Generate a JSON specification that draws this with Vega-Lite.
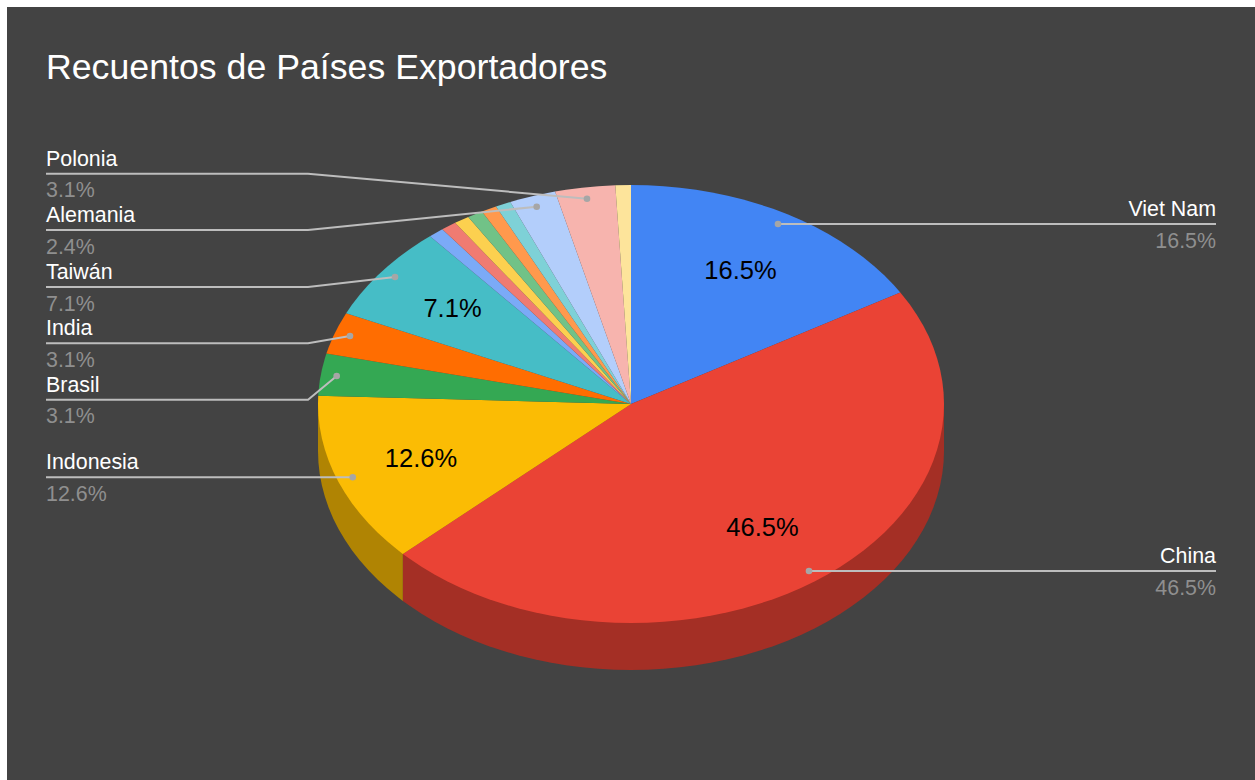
{
"$schema":"https://vega.github.io/schema/vega-lite/v6.json",
"width":1248,"height":773,
"autosize":{"type":"none"},
"padding":{"left":7,"top":7,"right":0,"bottom":0},
"background":"#ffffff",
"view":{"fill":"#434343","stroke":null},
"title":{"text":"Recuentos de Países Exportadores","anchor":"start","frame":"group","offset":0,"dx":39,"dy":108,"baseline":"alphabetic","font":"Liberation Sans","fontSize":35.7,"fontWeight":"normal","color":"#ffffff"},
"datasets":{
"wedges":[
{"slice":"China lado","order":89,"x":100,"y":0},{"slice":"China lado","order":90,"x":100,"y":-21.46},{"slice":"China lado","order":93,"x":99.86,"y":-26.69},{"slice":"China lado","order":96,"x":99.45,"y":-31.91},{"slice":"China lado","order":99,"x":98.77,"y":-37.1},{"slice":"China lado","order":102,"x":97.81,"y":-42.25},{"slice":"China lado","order":105,"x":96.59,"y":-47.34},{"slice":"China lado","order":108,"x":95.11,"y":-52.36},{"slice":"China lado","order":111,"x":93.36,"y":-57.3},{"slice":"China lado","order":114,"x":91.35,"y":-62.13},{"slice":"China lado","order":117,"x":89.1,"y":-66.86},{"slice":"China lado","order":120,"x":86.6,"y":-71.46},{"slice":"China lado","order":123,"x":83.87,"y":-75.92},{"slice":"China lado","order":126,"x":80.9,"y":-80.24},{"slice":"China lado","order":129,"x":77.71,"y":-84.39},{"slice":"China lado","order":132,"x":74.31,"y":-88.37},{"slice":"China lado","order":135,"x":70.71,"y":-92.17},{"slice":"China lado","order":138,"x":66.91,"y":-95.77},{"slice":"China lado","order":141,"x":62.93,"y":-99.17},{"slice":"China lado","order":144,"x":58.78,"y":-102.36},{"slice":"China lado","order":147,"x":54.46,"y":-105.33},{"slice":"China lado","order":150,"x":50,"y":-108.06},{"slice":"China lado","order":153,"x":45.4,"y":-110.56},{"slice":"China lado","order":156,"x":40.67,"y":-112.81},{"slice":"China lado","order":159,"x":35.84,"y":-114.82},{"slice":"China lado","order":162,"x":30.9,"y":-116.57},{"slice":"China lado","order":165,"x":25.88,"y":-118.05},{"slice":"China lado","order":168,"x":20.79,"y":-119.27},{"slice":"China lado","order":171,"x":15.64,"y":-120.23},{"slice":"China lado","order":174,"x":10.45,"y":-120.91},{"slice":"China lado","order":177,"x":5.23,"y":-121.32},{"slice":"China lado","order":180,"x":0,"y":-121.46},{"slice":"China lado","order":183,"x":-5.23,"y":-121.32},{"slice":"China lado","order":186,"x":-10.45,"y":-120.91},{"slice":"China lado","order":189,"x":-15.64,"y":-120.23},{"slice":"China lado","order":192,"x":-20.79,"y":-119.27},{"slice":"China lado","order":195,"x":-25.88,"y":-118.05},{"slice":"China lado","order":198,"x":-30.9,"y":-116.57},{"slice":"China lado","order":201,"x":-35.84,"y":-114.82},{"slice":"China lado","order":204,"x":-40.67,"y":-112.81},{"slice":"China lado","order":207,"x":-45.4,"y":-110.56},{"slice":"China lado","order":210,"x":-50,"y":-108.06},{"slice":"China lado","order":213,"x":-54.46,"y":-105.33},{"slice":"China lado","order":216,"x":-58.78,"y":-102.36},{"slice":"China lado","order":219,"x":-62.93,"y":-99.17},{"slice":"China lado","order":222,"x":-66.91,"y":-95.77},{"slice":"China lado","order":225,"x":-70.71,"y":-92.17},{"slice":"China lado","order":226.8,"x":-72.9,"y":-89.91},{"slice":"China lado","order":227,"x":-72.9,"y":-68.45},
{"slice":"Indonesia lado","order":226,"x":-72.9,"y":-68.45},{"slice":"Indonesia lado","order":226.8,"x":-72.9,"y":-89.91},{"slice":"Indonesia lado","order":228,"x":-74.31,"y":-88.37},{"slice":"Indonesia lado","order":231,"x":-77.71,"y":-84.39},{"slice":"Indonesia lado","order":234,"x":-80.9,"y":-80.24},{"slice":"Indonesia lado","order":237,"x":-83.87,"y":-75.92},{"slice":"Indonesia lado","order":240,"x":-86.6,"y":-71.46},{"slice":"Indonesia lado","order":243,"x":-89.1,"y":-66.86},{"slice":"Indonesia lado","order":246,"x":-91.35,"y":-62.13},{"slice":"Indonesia lado","order":249,"x":-93.36,"y":-57.3},{"slice":"Indonesia lado","order":252,"x":-95.11,"y":-52.36},{"slice":"Indonesia lado","order":255,"x":-96.59,"y":-47.34},{"slice":"Indonesia lado","order":258,"x":-97.81,"y":-42.25},{"slice":"Indonesia lado","order":261,"x":-98.77,"y":-37.1},{"slice":"Indonesia lado","order":264,"x":-99.45,"y":-31.91},{"slice":"Indonesia lado","order":267,"x":-99.86,"y":-26.69},{"slice":"Indonesia lado","order":270,"x":-100,"y":-21.46},{"slice":"Indonesia lado","order":271,"x":-100,"y":0},{"slice":"Indonesia lado","order":272,"x":0,"y":0},
{"slice":"Viet Nam","order":-1,"x":0,"y":0},{"slice":"Viet Nam","order":0,"x":0,"y":100},{"slice":"Viet Nam","order":3,"x":5.23,"y":99.86},{"slice":"Viet Nam","order":6,"x":10.45,"y":99.45},{"slice":"Viet Nam","order":9,"x":15.64,"y":98.77},{"slice":"Viet Nam","order":12,"x":20.79,"y":97.81},{"slice":"Viet Nam","order":15,"x":25.88,"y":96.59},{"slice":"Viet Nam","order":18,"x":30.9,"y":95.11},{"slice":"Viet Nam","order":21,"x":35.84,"y":93.36},{"slice":"Viet Nam","order":24,"x":40.67,"y":91.35},{"slice":"Viet Nam","order":27,"x":45.4,"y":89.1},{"slice":"Viet Nam","order":30,"x":50,"y":86.6},{"slice":"Viet Nam","order":33,"x":54.46,"y":83.87},{"slice":"Viet Nam","order":36,"x":58.78,"y":80.9},{"slice":"Viet Nam","order":39,"x":62.93,"y":77.71},{"slice":"Viet Nam","order":42,"x":66.91,"y":74.31},{"slice":"Viet Nam","order":45,"x":70.71,"y":70.71},{"slice":"Viet Nam","order":48,"x":74.31,"y":66.91},{"slice":"Viet Nam","order":51,"x":77.71,"y":62.93},{"slice":"Viet Nam","order":54,"x":80.9,"y":58.78},{"slice":"Viet Nam","order":57,"x":83.87,"y":54.46},{"slice":"Viet Nam","order":59.4,"x":86.05,"y":50.9},
{"slice":"China","order":-1,"x":0,"y":0},{"slice":"China","order":59.4,"x":86.05,"y":50.9},{"slice":"China","order":63,"x":89.1,"y":45.4},{"slice":"China","order":66,"x":91.35,"y":40.67},{"slice":"China","order":69,"x":93.36,"y":35.84},{"slice":"China","order":72,"x":95.11,"y":30.9},{"slice":"China","order":75,"x":96.59,"y":25.88},{"slice":"China","order":78,"x":97.81,"y":20.79},{"slice":"China","order":81,"x":98.77,"y":15.64},{"slice":"China","order":84,"x":99.45,"y":10.45},{"slice":"China","order":87,"x":99.86,"y":5.23},{"slice":"China","order":90,"x":100,"y":0},{"slice":"China","order":93,"x":99.86,"y":-5.23},{"slice":"China","order":96,"x":99.45,"y":-10.45},{"slice":"China","order":99,"x":98.77,"y":-15.64},{"slice":"China","order":102,"x":97.81,"y":-20.79},{"slice":"China","order":105,"x":96.59,"y":-25.88},{"slice":"China","order":108,"x":95.11,"y":-30.9},{"slice":"China","order":111,"x":93.36,"y":-35.84},{"slice":"China","order":114,"x":91.35,"y":-40.67},{"slice":"China","order":117,"x":89.1,"y":-45.4},{"slice":"China","order":120,"x":86.6,"y":-50},{"slice":"China","order":123,"x":83.87,"y":-54.46},{"slice":"China","order":126,"x":80.9,"y":-58.78},{"slice":"China","order":129,"x":77.71,"y":-62.93},{"slice":"China","order":132,"x":74.31,"y":-66.91},{"slice":"China","order":135,"x":70.71,"y":-70.71},{"slice":"China","order":138,"x":66.91,"y":-74.31},{"slice":"China","order":141,"x":62.93,"y":-77.71},{"slice":"China","order":144,"x":58.78,"y":-80.9},{"slice":"China","order":147,"x":54.46,"y":-83.87},{"slice":"China","order":150,"x":50,"y":-86.6},{"slice":"China","order":153,"x":45.4,"y":-89.1},{"slice":"China","order":156,"x":40.67,"y":-91.35},{"slice":"China","order":159,"x":35.84,"y":-93.36},{"slice":"China","order":162,"x":30.9,"y":-95.11},{"slice":"China","order":165,"x":25.88,"y":-96.59},{"slice":"China","order":168,"x":20.79,"y":-97.81},{"slice":"China","order":171,"x":15.64,"y":-98.77},{"slice":"China","order":174,"x":10.45,"y":-99.45},{"slice":"China","order":177,"x":5.23,"y":-99.86},{"slice":"China","order":180,"x":0,"y":-100},{"slice":"China","order":183,"x":-5.23,"y":-99.86},{"slice":"China","order":186,"x":-10.45,"y":-99.45},{"slice":"China","order":189,"x":-15.64,"y":-98.77},{"slice":"China","order":192,"x":-20.79,"y":-97.81},{"slice":"China","order":195,"x":-25.88,"y":-96.59},{"slice":"China","order":198,"x":-30.9,"y":-95.11},{"slice":"China","order":201,"x":-35.84,"y":-93.36},{"slice":"China","order":204,"x":-40.67,"y":-91.35},{"slice":"China","order":207,"x":-45.4,"y":-89.1},{"slice":"China","order":210,"x":-50,"y":-86.6},{"slice":"China","order":213,"x":-54.46,"y":-83.87},{"slice":"China","order":216,"x":-58.78,"y":-80.9},{"slice":"China","order":219,"x":-62.93,"y":-77.71},{"slice":"China","order":222,"x":-66.91,"y":-74.31},{"slice":"China","order":225,"x":-70.71,"y":-70.71},{"slice":"China","order":226.8,"x":-72.9,"y":-68.45},
{"slice":"Indonesia","order":-1,"x":0,"y":0},{"slice":"Indonesia","order":226.8,"x":-72.9,"y":-68.45},{"slice":"Indonesia","order":228,"x":-74.31,"y":-66.91},{"slice":"Indonesia","order":231,"x":-77.71,"y":-62.93},{"slice":"Indonesia","order":234,"x":-80.9,"y":-58.78},{"slice":"Indonesia","order":237,"x":-83.87,"y":-54.46},{"slice":"Indonesia","order":240,"x":-86.6,"y":-50},{"slice":"Indonesia","order":243,"x":-89.1,"y":-45.4},{"slice":"Indonesia","order":246,"x":-91.35,"y":-40.67},{"slice":"Indonesia","order":249,"x":-93.36,"y":-35.84},{"slice":"Indonesia","order":252,"x":-95.11,"y":-30.9},{"slice":"Indonesia","order":255,"x":-96.59,"y":-25.88},{"slice":"Indonesia","order":258,"x":-97.81,"y":-20.79},{"slice":"Indonesia","order":261,"x":-98.77,"y":-15.64},{"slice":"Indonesia","order":264,"x":-99.45,"y":-10.45},{"slice":"Indonesia","order":267,"x":-99.86,"y":-5.23},{"slice":"Indonesia","order":270,"x":-100,"y":0},{"slice":"Indonesia","order":272.16,"x":-99.93,"y":3.77},
{"slice":"Brasil","order":-1,"x":0,"y":0},{"slice":"Brasil","order":272.16,"x":-99.93,"y":3.77},{"slice":"Brasil","order":273,"x":-99.86,"y":5.23},{"slice":"Brasil","order":276,"x":-99.45,"y":10.45},{"slice":"Brasil","order":279,"x":-98.77,"y":15.64},{"slice":"Brasil","order":282,"x":-97.81,"y":20.79},{"slice":"Brasil","order":283.32,"x":-97.31,"y":23.04},
{"slice":"India","order":-1,"x":0,"y":0},{"slice":"India","order":283.32,"x":-97.31,"y":23.04},{"slice":"India","order":285,"x":-96.59,"y":25.88},{"slice":"India","order":288,"x":-95.11,"y":30.9},{"slice":"India","order":291,"x":-93.36,"y":35.84},{"slice":"India","order":294,"x":-91.35,"y":40.67},{"slice":"India","order":294.48,"x":-91.01,"y":41.44},
{"slice":"Taiwán","order":-1,"x":0,"y":0},{"slice":"Taiwán","order":294.48,"x":-91.01,"y":41.44},{"slice":"Taiwán","order":297,"x":-89.1,"y":45.4},{"slice":"Taiwán","order":300,"x":-86.6,"y":50},{"slice":"Taiwán","order":303,"x":-83.87,"y":54.46},{"slice":"Taiwán","order":306,"x":-80.9,"y":58.78},{"slice":"Taiwán","order":309,"x":-77.71,"y":62.93},{"slice":"Taiwán","order":312,"x":-74.31,"y":66.91},{"slice":"Taiwán","order":315,"x":-70.71,"y":70.71},{"slice":"Taiwán","order":318,"x":-66.91,"y":74.31},{"slice":"Taiwán","order":320.04,"x":-64.23,"y":76.65},
{"slice":"Otro 1","order":-1,"x":0,"y":0},{"slice":"Otro 1","order":320.04,"x":-64.23,"y":76.65},{"slice":"Otro 1","order":322.92,"x":-60.29,"y":79.78},
{"slice":"Otro 2","order":-1,"x":0,"y":0},{"slice":"Otro 2","order":322.92,"x":-60.29,"y":79.78},{"slice":"Otro 2","order":325.8,"x":-56.2,"y":82.71},
{"slice":"Otro 3","order":-1,"x":0,"y":0},{"slice":"Otro 3","order":325.8,"x":-56.2,"y":82.71},{"slice":"Otro 3","order":328.68,"x":-51.99,"y":85.42},
{"slice":"Otro 4","order":-1,"x":0,"y":0},{"slice":"Otro 4","order":328.68,"x":-51.99,"y":85.42},{"slice":"Otro 4","order":331.56,"x":-47.63,"y":87.93},
{"slice":"Otro 5","order":-1,"x":0,"y":0},{"slice":"Otro 5","order":331.56,"x":-47.63,"y":87.93},{"slice":"Otro 5","order":334.44,"x":-43.14,"y":90.21},
{"slice":"Otro 6","order":-1,"x":0,"y":0},{"slice":"Otro 6","order":334.44,"x":-43.14,"y":90.21},{"slice":"Otro 6","order":337.32,"x":-38.56,"y":92.27},
{"slice":"Alemania","order":-1,"x":0,"y":0},{"slice":"Alemania","order":337.32,"x":-38.56,"y":92.27},{"slice":"Alemania","order":339,"x":-35.84,"y":93.36},{"slice":"Alemania","order":342,"x":-30.9,"y":95.11},{"slice":"Alemania","order":345,"x":-25.88,"y":96.59},{"slice":"Alemania","order":345.96,"x":-24.26,"y":97.01},
{"slice":"Polonia","order":-1,"x":0,"y":0},{"slice":"Polonia","order":345.96,"x":-24.26,"y":97.01},{"slice":"Polonia","order":348,"x":-20.79,"y":97.81},{"slice":"Polonia","order":351,"x":-15.64,"y":98.77},{"slice":"Polonia","order":354,"x":-10.45,"y":99.45},{"slice":"Polonia","order":357.12,"x":-5.02,"y":99.87},
{"slice":"Otro 7","order":-1,"x":0,"y":0},{"slice":"Otro 7","order":357.12,"x":-5.02,"y":99.87},{"slice":"Otro 7","order":360,"x":0,"y":100}
],
"leaders":[
{"pais":"Viet Nam","order":0,"x":46.96,"y":82.19},{"pais":"Viet Nam","order":1,"x":186.9,"y":82.19},
{"pais":"China","order":0,"x":56.87,"y":-76.26},{"pais":"China","order":1,"x":186.9,"y":-76.26},
{"pais":"Polonia","order":0,"x":-186.9,"y":105.16},{"pais":"Polonia","order":1,"x":-103.19,"y":105.16},{"pais":"Polonia","order":2,"x":-14.06,"y":93.74},
{"pais":"Alemania","order":0,"x":-186.9,"y":79.45},{"pais":"Alemania","order":1,"x":-103.19,"y":79.45},{"pais":"Alemania","order":2,"x":-30.13,"y":90.09},
{"pais":"Taiwán","order":0,"x":-186.9,"y":53.42},{"pais":"Taiwán","order":1,"x":-103.19,"y":53.42},{"pais":"Taiwán","order":2,"x":-75.4,"y":57.99},
{"pais":"India","order":0,"x":-186.9,"y":27.72},{"pais":"India","order":1,"x":-103.19,"y":27.72},{"pais":"India","order":2,"x":-89.78,"y":31.05},
{"pais":"Brasil","order":0,"x":-186.9,"y":1.96},{"pais":"Brasil","order":1,"x":-103.19,"y":1.96},{"pais":"Brasil","order":2,"x":-94.03,"y":12.79},
{"pais":"Indonesia","order":0,"x":-186.9,"y":-33.47},{"pais":"Indonesia","order":1,"x":-88.91,"y":-33.47}
],
"labels":[
{"pais":"Viet Nam","share":"16.5%","side":"right","labelX":186.9,"labelY":82.19,"dotX":46.96,"dotY":82.19},
{"pais":"China","share":"46.5%","side":"right","labelX":186.9,"labelY":-76.26,"dotX":56.87,"dotY":-76.26},
{"pais":"Polonia","share":"3.1%","side":"left","labelX":-186.9,"labelY":105.16,"dotX":-14.06,"dotY":93.74},
{"pais":"Alemania","share":"2.4%","side":"left","labelX":-186.9,"labelY":79.45,"dotX":-30.13,"dotY":90.09},
{"pais":"Taiwán","share":"7.1%","side":"left","labelX":-186.9,"labelY":53.42,"dotX":-75.4,"dotY":57.99},
{"pais":"India","share":"3.1%","side":"left","labelX":-186.9,"labelY":27.72,"dotX":-89.78,"dotY":31.05},
{"pais":"Brasil","share":"3.1%","side":"left","labelX":-186.9,"labelY":1.96,"dotX":-94.03,"dotY":12.79},
{"pais":"Indonesia","share":"12.6%","side":"left","labelX":-186.9,"labelY":-33.47,"dotX":-88.91,"dotY":-33.47}
],
"inner":[
{"pais":"Viet Nam","share":"16.5%","x":34.98,"y":60.73},
{"pais":"China","share":"46.5%","x":42.01,"y":-56.62},
{"pais":"Indonesia","share":"12.6%","x":-67.09,"y":-25.11},
{"pais":"Taiwán","share":"7.1%","x":-57.03,"y":43.38}
]
},
"layer":[
{"data":{"name":"wedges"},
 "mark":{"type":"line","stroke":"transparent","strokeWidth":0,"interpolate":"linear"},
 "encoding":{
  "x":{"field":"x","type":"quantitative","axis":null,"scale":{"domain":[-199.36,199.36],"nice":false,"zero":false}},
  "y":{"field":"y","type":"quantitative","axis":null,"scale":{"domain":[-171.69,181.28],"nice":false,"zero":false}},
  "order":{"field":"order","type":"quantitative"},
  "detail":{"field":"slice","type":"nominal"},
  "fill":{"field":"slice","type":"nominal","legend":null,"scale":{
   "domain":["China lado","Indonesia lado","Viet Nam","China","Indonesia","Brasil","India","Taiwán","Otro 1","Otro 2","Otro 3","Otro 4","Otro 5","Otro 6","Alemania","Polonia","Otro 7"],
   "range":["#A42F25","#B08403","#4285F4","#EA4335","#FBBC04","#34A853","#FF6D01","#46BDC6","#7BAAF7","#F07B72","#FCD04F","#71C287","#FF994D","#7ED1D7","#B3CEFB","#F7B4AE","#FDE49B"]}}
 }},
{"data":{"name":"inner"},
 "mark":{"type":"text","font":"Liberation Sans","fontSize":25.5,"color":"#000000","align":"center","baseline":"middle"},
 "encoding":{"x":{"field":"x","type":"quantitative"},"y":{"field":"y","type":"quantitative"},"text":{"field":"share","type":"nominal"}}},
{"data":{"name":"leaders"},
 "mark":{"type":"line","color":"#bdbdbd","strokeWidth":2},
 "encoding":{"x":{"field":"x","type":"quantitative"},"y":{"field":"y","type":"quantitative"},"order":{"field":"order","type":"quantitative"},"detail":{"field":"pais","type":"nominal"}}},
{"data":{"name":"labels"},
 "mark":{"type":"circle","size":44,"color":"#a6a6a6","opacity":1},
 "encoding":{"x":{"field":"dotX","type":"quantitative"},"y":{"field":"dotY","type":"quantitative"}}},
{"data":{"name":"labels"},"transform":[{"filter":"datum.side === 'left'"}],
 "mark":{"type":"text","font":"Liberation Sans","fontSize":21.4,"color":"#ffffff","align":"left","baseline":"alphabetic","dy":-8},
 "encoding":{"x":{"field":"labelX","type":"quantitative"},"y":{"field":"labelY","type":"quantitative"},"text":{"field":"pais","type":"nominal"}}},
{"data":{"name":"labels"},"transform":[{"filter":"datum.side === 'left'"}],
 "mark":{"type":"text","font":"Liberation Sans","fontSize":21.4,"color":"#8f8f8f","align":"left","baseline":"alphabetic","dy":23.5},
 "encoding":{"x":{"field":"labelX","type":"quantitative"},"y":{"field":"labelY","type":"quantitative"},"text":{"field":"share","type":"nominal"}}},
{"data":{"name":"labels"},"transform":[{"filter":"datum.side === 'right'"}],
 "mark":{"type":"text","font":"Liberation Sans","fontSize":21.4,"color":"#ffffff","align":"right","baseline":"alphabetic","dy":-8},
 "encoding":{"x":{"field":"labelX","type":"quantitative"},"y":{"field":"labelY","type":"quantitative"},"text":{"field":"pais","type":"nominal"}}},
{"data":{"name":"labels"},"transform":[{"filter":"datum.side === 'right'"}],
 "mark":{"type":"text","font":"Liberation Sans","fontSize":21.4,"color":"#8f8f8f","align":"right","baseline":"alphabetic","dy":23.5},
 "encoding":{"x":{"field":"labelX","type":"quantitative"},"y":{"field":"labelY","type":"quantitative"},"text":{"field":"share","type":"nominal"}}}
]
}
